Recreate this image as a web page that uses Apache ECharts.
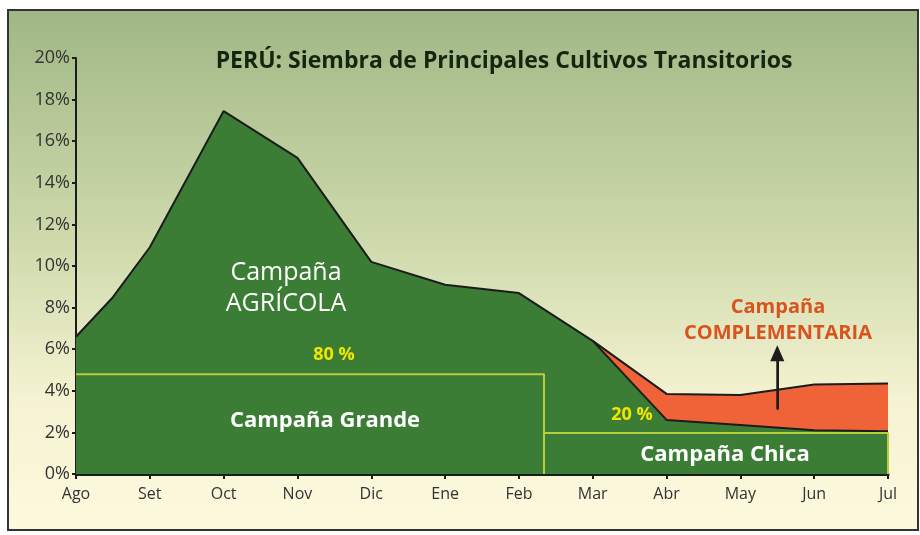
<!DOCTYPE html>
<html>
<head>
<meta charset="utf-8">
<script src="https://cdn.jsdelivr.net/npm/echarts@6/dist/echarts.min.js"></script>
<style>
  html, body { margin: 0; padding: 0; background: #fff; }
  #chart { width: 920px; height: 535px; }
</style>
</head>
<body>
<div id="chart"></div>
<script>
// month labels on the x axis (index 0..11)
const months = ["Ago", "Set", "Oct", "Nov", "Dic", "Ene", "Feb", "Mar", "Abr", "May", "Jun", "Jul"];

// main planting curve: [month index, % share]
const agricola = [
  [0, 6.6], [0.5, 8.5], [1, 10.9], [2, 17.45], [3, 15.2], [4, 10.2],
  [5, 9.1], [6, 8.7], [7, 6.4], [8, 2.6], [9, 2.35], [10, 2.1], [11, 2.05]
];

// upper edge of the complementary campaign
const complementaria = [[7, 6.4], [8, 3.85], [9, 3.8], [10, 4.3], [11, 4.35]];

// campaign boxes: Grande (80 %) and Chica (20 %)
const grandeBox = [[0, 4.8], [6.34, 4.8], [6.34, 0]];
const chicaBox = [[6.34, 1.97], [11, 1.97], [11, 0]];

// arrow pointing up to the complementary label
const arrow = [[9.5, 3.1], [9.5, 5.8]];

const yTicks = [0, 2, 4, 6, 8, 10, 12, 14, 16, 18, 20];

const green = "#3b7d35";
const orange = "#f06238";
const boxLine = "#b8cc3c";
const dark = "#1c1c1c";

const chart = echarts.init(document.getElementById("chart"), null, { renderer: "canvas" });

chart.setOption({
  animation: false,
  grid: { left: 76, right: 32, top: 58, bottom: 61 },
  graphic: [
    {
      type: "rect",
      z: -10,
      shape: { x: 8, y: 10, width: 910, height: 520 },
      style: {
        fill: new echarts.graphic.LinearGradient(0, 0, 0, 1, [
          { offset: 0, color: "#a0b785" },
          { offset: 0.45, color: "#cfdaac" },
          { offset: 0.75, color: "#f5f3d2" },
          { offset: 1, color: "#fdf9de" }
        ]),
        stroke: "#333",
        lineWidth: 2
      }
    },
    {
      type: "text", x: 504, y: 61, z: 10,
      style: {
        text: "PERÚ: Siembra de Principales Cultivos Transitorios",
        font: "bold 23px 'Open Sans'", fill: "#14260f", align: "center", verticalAlign: "middle"
      }
    },
    {
      type: "text", x: 286, y: 288, z: 10,
      style: {
        text: "Campaña\nAGRÍCOLA", font: "25px 'Open Sans'", fill: "#fff",
        align: "center", verticalAlign: "middle", lineHeight: 31
      }
    },
    {
      type: "text", x: 334, y: 355, z: 10,
      style: { text: "80 %", font: "bold 18px 'Open Sans'", fill: "#f2e600", align: "center", verticalAlign: "middle" }
    },
    {
      type: "text", x: 325, y: 421, z: 10,
      style: { text: "Campaña Grande", font: "bold 22px 'Open Sans'", fill: "#fff", align: "center", verticalAlign: "middle" }
    },
    {
      type: "text", x: 632, y: 415, z: 10,
      style: { text: "20 %", font: "bold 18px 'Open Sans'", fill: "#f2e600", align: "center", verticalAlign: "middle" }
    },
    {
      type: "text", x: 725, y: 455, z: 10,
      style: { text: "Campaña Chica", font: "bold 22px 'Open Sans'", fill: "#fff", align: "center", verticalAlign: "middle" }
    },
    {
      type: "text", x: 778, y: 320, z: 10,
      style: {
        text: "Campaña\nCOMPLEMENTARIA", font: "bold 20px 'Open Sans'", fill: "#d9531e",
        align: "center", verticalAlign: "middle", lineHeight: 26
      }
    }
  ],
  xAxis: {
    type: "value",
    min: 0,
    max: 11,
    interval: 1,
    splitLine: { show: false },
    axisLine: { lineStyle: { color: dark, width: 3 } },
    axisTick: { lineStyle: { color: dark, width: 2 }, length: 5 },
    axisLabel: {
      color: "#333", fontSize: 16, fontFamily: "'Open Sans'", margin: 12,
      formatter: (v) => months[v] || ""
    }
  },
  yAxis: {
    type: "value",
    min: 0,
    max: 20,
    interval: 2,
    splitLine: { show: false },
    axisLine: { show: true, lineStyle: { color: dark, width: 2 } },
    axisTick: { show: true, inside: false, length: 4, lineStyle: { color: dark, width: 2 } },
    axisLabel: {
      color: "#333", fontSize: 18, fontFamily: "'Open Sans'", margin: 6,
      formatter: (v) => (yTicks.includes(v) ? v + "%" : "")
    }
  },
  series: [
    {
      type: "line",
      name: "Complementaria",
      data: complementaria,
      symbol: "none",
      z: 2,
      lineStyle: { color: dark, width: 2 },
      areaStyle: { color: orange, opacity: 1, origin: "start" }
    },
    {
      type: "line",
      name: "Agrícola",
      data: agricola,
      symbol: "none",
      z: 3,
      lineStyle: { color: dark, width: 2 },
      areaStyle: { color: green, opacity: 1, origin: "start" }
    },
    {
      type: "line",
      name: "Grande",
      data: grandeBox,
      symbol: "none",
      z: 4,
      lineStyle: { color: boxLine, width: 2 }
    },
    {
      type: "line",
      name: "Chica",
      data: chicaBox,
      symbol: "none",
      z: 4,
      lineStyle: { color: boxLine, width: 2 }
    },
    {
      type: "line",
      name: "Flecha",
      data: arrow,
      symbol: "none",
      z: 5,
      lineStyle: { color: dark, width: 2 },
      markLine: {
        silent: true,
        symbol: ["none", "triangle"],
        symbolSize: [14, 16],
        label: { show: false },
        lineStyle: { color: dark, width: 2, type: "solid" },
        data: [[{ coord: arrow[0] }, { coord: arrow[1] }]]
      }
    }
  ]
});
</script>
</body>
</html>
